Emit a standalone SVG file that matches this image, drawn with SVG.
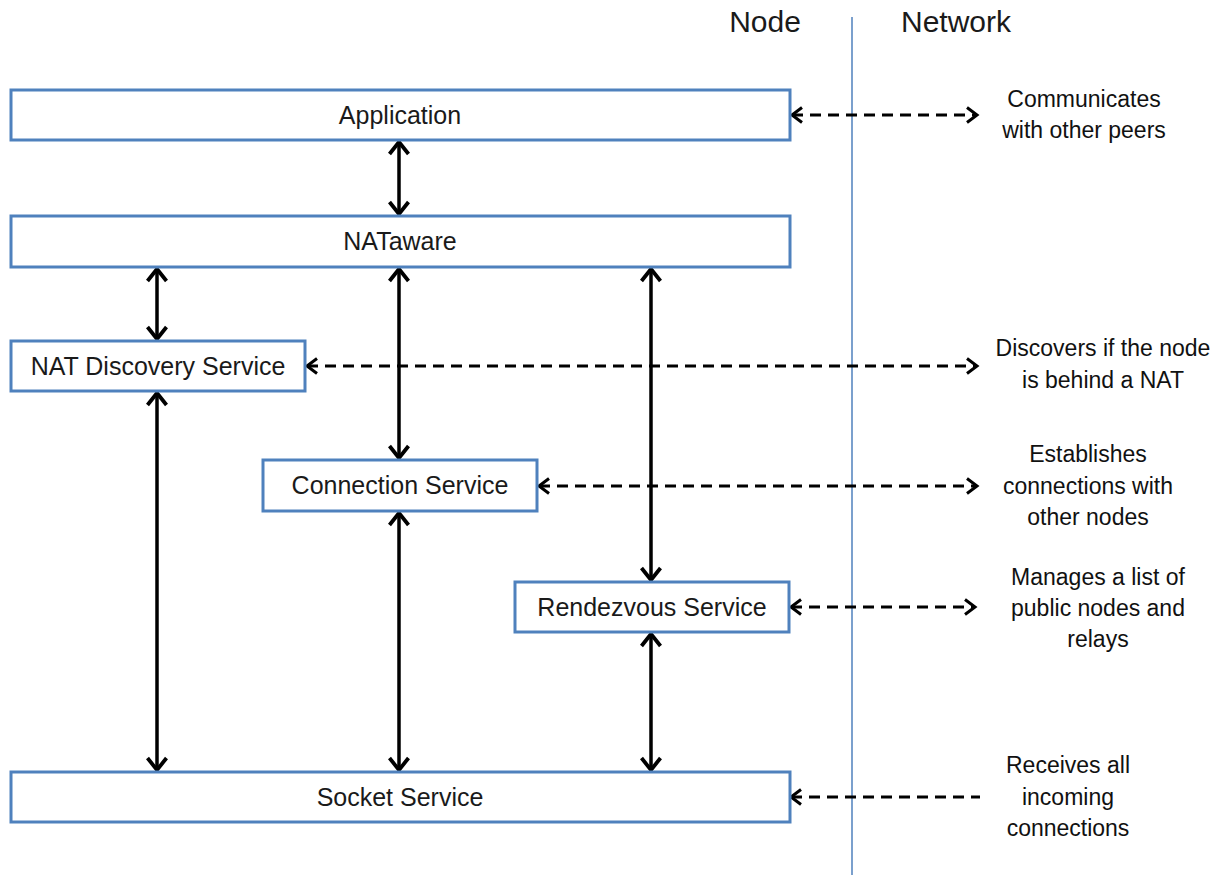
<svg xmlns="http://www.w3.org/2000/svg" width="1225" height="875" viewBox="0 0 1225 875">
<style>
.box{fill:#fff;stroke:#4f81bd;stroke-width:3}
.bt{font-family:"Liberation Sans",Arial,sans-serif;font-size:25px;fill:#1a1a1a;text-anchor:middle}
.lt{font-family:"Liberation Sans",Arial,sans-serif;font-size:23px;fill:#111;text-anchor:middle}
.ht{font-family:"Liberation Sans",Arial,sans-serif;font-size:30px;fill:#1a1a1a;text-anchor:middle}
.solid{stroke:#000;stroke-width:3.5;fill:none;marker-start:url(#hs);marker-end:url(#hs)}
.dash{stroke:#000;stroke-width:3;fill:none;stroke-dasharray:11 7}
</style>
<defs>
<marker id="hs" markerUnits="userSpaceOnUse" markerWidth="18" markerHeight="24" viewBox="0 0 18 24" refX="15" refY="12" orient="auto-start-reverse">
<path d="M3,2.5 L15,12 L3,21.5" fill="none" stroke="#000" stroke-width="3.8"/>
</marker>
<marker id="hd" markerUnits="userSpaceOnUse" markerWidth="16" markerHeight="20" viewBox="0 0 16 20" refX="13" refY="10" orient="auto-start-reverse">
<path d="M3,2.5 L13,10 L3,17.5" fill="none" stroke="#000" stroke-width="3"/>
</marker>
</defs>
<rect width="1225" height="875" fill="#fff"/>
<line x1="852" y1="17" x2="852" y2="875" stroke="#4f81bd" stroke-width="1.5"/>
<text class="ht" x="765" y="32">Node</text>
<text class="ht" x="956" y="32">Network</text>
<g id="connectors">
<line class="solid" x1="399" y1="142" x2="399" y2="214"/>
<line class="solid" x1="157" y1="269" x2="157" y2="339"/>
<line class="solid" x1="399" y1="269" x2="399" y2="458"/>
<line class="solid" x1="651" y1="269" x2="651" y2="580"/>
<line class="solid" x1="157" y1="393" x2="157" y2="770"/>
<line class="solid" x1="399" y1="513" x2="399" y2="770"/>
<line class="solid" x1="651" y1="634" x2="651" y2="770"/>
<line class="dash" x1="792" y1="115" x2="977" y2="115" marker-start="url(#hd)" marker-end="url(#hd)"/>
<line class="dash" x1="307" y1="366" x2="977" y2="366" marker-start="url(#hd)" marker-end="url(#hd)"/>
<line class="dash" x1="539" y1="486" x2="977" y2="486" marker-start="url(#hd)" marker-end="url(#hd)"/>
<line class="dash" x1="791" y1="607" x2="975" y2="607" marker-start="url(#hd)" marker-end="url(#hd)"/>
<line class="dash" x1="791" y1="797" x2="980" y2="797" marker-start="url(#hd)"/>
</g>
<g id="application"><rect class="box" x="11" y="90" width="779" height="50"/><text class="bt" x="400" y="124">Application</text></g>
<g id="nataware"><rect class="box" x="11" y="216" width="779" height="51"/><text class="bt" x="400" y="250">NATaware</text></g>
<g id="nat-discovery"><rect class="box" x="11" y="341" width="294" height="50"/><text class="bt" x="158" y="375">NAT Discovery Service</text></g>
<g id="connection"><rect class="box" x="263" y="460" width="274" height="51"/><text class="bt" x="400" y="494">Connection Service</text></g>
<g id="rendezvous"><rect class="box" x="515" y="582" width="274" height="50"/><text class="bt" x="652" y="616">Rendezvous Service</text></g>
<g id="socket"><rect class="box" x="11" y="772" width="779" height="50"/><text class="bt" x="400" y="806">Socket Service</text></g>
<g id="labels">
<text class="lt" x="1084" y="107">Communicates</text>
<text class="lt" x="1084" y="138">with other peers</text>
<text class="lt" x="1103" y="356">Discovers if the node</text>
<text class="lt" x="1103" y="388">is behind a NAT</text>
<text class="lt" x="1088" y="462">Establishes</text>
<text class="lt" x="1088" y="494">connections with</text>
<text class="lt" x="1088" y="525">other nodes</text>
<text class="lt" x="1098" y="585">Manages a list of</text>
<text class="lt" x="1098" y="616">public nodes and</text>
<text class="lt" x="1098" y="647">relays</text>
<text class="lt" x="1068" y="773">Receives all</text>
<text class="lt" x="1068" y="805">incoming</text>
<text class="lt" x="1068" y="836">connections</text>
</g>
</svg>
